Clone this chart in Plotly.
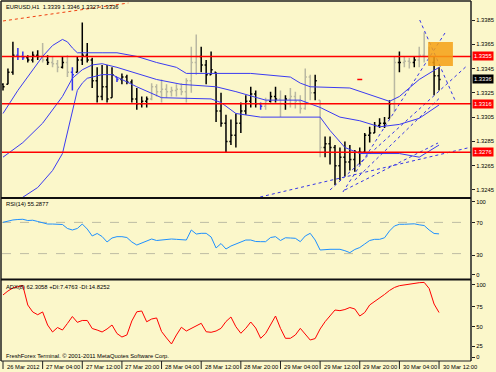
import plotly.graph_objects as go

# ---------------- data ----------------
BARS = list(range(89))  # H1 bars, bar 0 = 26 Mar 2012 20:00
OPEN = [1.3332,1.3332,1.3342,1.3356,1.3355,1.3354,1.3352,1.3356,1.3355,1.3352,
        1.3350,1.3349,1.3346,1.3350,1.3342,1.3342,1.3352,1.3356,1.3352,1.3335,
        1.3322,1.3330,1.3321,1.3338,1.3336,1.3338,1.3334,1.3320,1.3316,1.3318,
        1.3320,1.3330,1.3326,1.3328,1.3326,1.3327,1.3328,1.3326,1.3335,1.3350,
        1.3355,1.3348,1.3340,1.3342,1.3310,1.3300,1.3285,1.3290,1.3300,1.3310,
        1.3318,1.3324,1.3316,1.3314,1.3318,1.3322,1.3320,1.3316,1.3320,1.3322,
        1.3318,1.3312,1.3338,1.3325,1.3319,1.3280,1.3283,1.3280,1.3265,1.3272,
        1.3268,1.3270,1.3276,1.3276,1.3290,1.3292,1.3298,1.3300,1.3304,1.3316,
        1.3350,1.3350,1.3351,1.3350,1.3352,1.3356,1.3355,1.3350,1.3339]
HIGH = [1.3333,1.3345,1.3367,1.3362,1.3359,1.3356,1.3359,1.3360,1.3366,1.3356,
        1.3355,1.3352,1.3355,1.3356,1.3346,1.3355,1.3383,1.3366,1.3354,1.3346,
        1.3348,1.3348,1.3346,1.3338,1.3341,1.3340,1.3336,1.3329,1.3322,1.3322,
        1.3333,1.3332,1.3336,1.3332,1.3330,1.3332,1.3333,1.3337,1.3363,1.3373,
        1.3363,1.3352,1.3359,1.3342,1.3325,1.3307,1.3303,1.3308,1.3317,1.3323,
        1.3330,1.3327,1.3317,1.3321,1.3326,1.3330,1.3327,1.3323,1.3329,1.3326,
        1.3323,1.3345,1.3340,1.3340,1.3319,1.3289,1.3289,1.3282,1.3280,1.3285,
        1.3282,1.3278,1.3280,1.3292,1.3297,1.3301,1.3304,1.3305,1.3319,1.3355,
        1.3359,1.3355,1.3354,1.3355,1.3363,1.3375,1.3363,1.3355,1.3346]
LOW = [1.3327,1.3332,1.3340,1.3352,1.3352,1.3350,1.3350,1.3352,1.3350,1.3348,
       1.3346,1.3342,1.3345,1.3338,1.3327,1.3342,1.3348,1.3350,1.3329,1.3317,
       1.3319,1.3317,1.3321,1.3334,1.3332,1.3332,1.3317,1.3311,1.3313,1.3313,
       1.3319,1.3322,1.3317,1.3321,1.3322,1.3322,1.3323,1.3317,1.3325,1.3340,
       1.3342,1.3332,1.3340,1.3301,1.3297,1.3276,1.3282,1.3280,1.3292,1.3307,
       1.3313,1.3313,1.3311,1.3311,1.3317,1.3317,1.3305,1.3311,1.3313,1.3312,
       1.3308,1.3311,1.3319,1.3319,1.3272,1.3272,1.3266,1.3249,1.3253,1.3256,
       1.3261,1.3260,1.3266,1.3276,1.3284,1.3292,1.3296,1.3296,1.3304,1.3309,
       1.3342,1.3346,1.3345,1.3346,1.3346,1.3350,1.3348,1.3323,1.3327]
CLOSE = [1.3330,1.3342,1.3356,1.3355,1.3354,1.3352,1.3356,1.3355,1.3352,1.3350,
         1.3349,1.3346,1.3350,1.3342,1.3340,1.3352,1.3356,1.3352,1.3335,1.3322,
         1.3330,1.3320,1.3340,1.3336,1.3338,1.3334,1.3320,1.3316,1.3318,1.3320,
         1.3330,1.3326,1.3328,1.3326,1.3327,1.3328,1.3326,1.3335,1.3350,1.3355,
         1.3348,1.3340,1.3344,1.3310,1.3300,1.3285,1.3290,1.3300,1.3310,1.3318,
         1.3324,1.3316,1.3314,1.3318,1.3322,1.3320,1.3316,1.3320,1.3322,1.3318,
         1.3312,1.3338,1.3325,1.3335,1.3280,1.3283,1.3280,1.3265,1.3272,1.3268,
         1.3270,1.3276,1.3276,1.3290,1.3292,1.3298,1.3300,1.3300,1.3316,1.3350,
         1.3350,1.3351,1.3350,1.3352,1.3356,1.3355,1.3350,1.3339,1.3336]

# Bollinger bands (vertices)
UB_BARS = [0,3,8,10,12,13,14,15,20,23,27,31,35,37,50,58,60,62,70,75,78,80,84,88]
UB_VALS = [1.3308,1.3327,1.3355,1.3364,1.3369,1.3367,1.3362,1.3358,1.3358,1.3358,1.3355,1.3350,
           1.3346,1.3341,1.3341,1.3338,1.3333,1.3330,1.3329,1.3322,1.3318,1.3322,1.3336,1.3346]
MB_BARS = [0,4,8,12,14,16,18,20,23,27,31,36,43,47,53,60,64,68,72,76,80,84,88]
MB_VALS = [1.3272,1.3284,1.3300,1.3322,1.3337,1.3344,1.3348,1.3349,1.3346,1.3341,1.3336,1.3332,
           1.3330,1.3326,1.3319,1.3319,1.3313,1.3305,1.3302,1.3297,1.3299,1.3304,1.3315]
LB_BARS = [3,4,7,10,12,13,14,15,16,17,20,22,24,27,32,42,44,47,52,64,66,69,72,80,84,88]
LB_VALS = [1.3236,1.3239,1.3247,1.3261,1.3275,1.3292,1.3311,1.3327,1.3333,1.3337,1.3340,1.3340,
           1.3336,1.3330,1.3321,1.3320,1.3317,1.3308,1.3305,1.3305,1.3294,1.3280,1.3275,1.3275,
           1.3272,1.3282]

LEVELS = [1.3355, 1.3316, 1.3276]
CURRENT = 1.3336
PRICE_TICKS = [1.3385, 1.3365, 1.3345, 1.3325, 1.3305, 1.3285, 1.3265, 1.3245]

# drawn objects: (bar0, price0, bar1, price1)
TRENDLINES = [(51.9,1.32392,94.6,1.32804),(68.6,1.32433,89.2,1.33743),(66.0,1.32450,93.8,1.33479),
              (69.0,1.32450,87.8,1.32837),(84.1,1.33850,91.2,1.33191),(71.0,1.32532,88.1,1.33207)]
TOPLINE = (0.0,1.33842,25.3,1.33990)
BOX = (85.8,1.33669,90.8,1.33471)
ASK_MARK = (71.5, 72.5)

RSI = [70.1,71.8,73.1,73.7,74.0,72.4,72.8,71.2,69.2,67.9,
       67.9,67.9,67.3,62.2,60.3,62.2,67.9,61.5,52.6,55.8,
       51.9,44.9,50.0,51.7,51.7,50.6,44.9,41.0,43.6,46.2,
       48.7,46.8,47.4,48.5,48.7,48.3,48.1,47.4,60.3,55.1,
       56.0,56.0,51.3,37.2,42.9,35.9,39.7,42.3,44.0,47.4,
       47.4,45.5,45.3,45.3,50.6,51.7,46.8,50.3,50.0,49.6,
       45.3,52.6,56.0,47.4,34.6,35.3,35.5,35.5,35.5,33.7,
       31.2,35.3,37.8,42.3,46.8,48.3,48.3,50.3,59.0,65.4,
       67.6,67.6,67.9,68.2,66.9,66.0,60.3,55.8,55.29]
ADX = [84.0,88.9,92.6,94.4,95.7,71.6,63.0,59.6,63.0,46.9,
       38.3,43.8,40.7,48.8,57.4,50.2,52.5,52.5,42.6,40.7,
       38.3,42.0,46.9,36.4,32.1,34.6,51.9,63.2,64.2,50.9,
       54.3,55.6,38.9,30.9,23.5,34.6,44.1,39.5,42.8,45.7,
       49.0,38.6,37.9,39.5,42.8,51.2,56.8,44.8,36.7,42.8,
       50.6,43.2,30.5,36.4,46.9,58.0,42.8,30.5,30.5,34.6,
       42.8,35.2,28.4,30.2,42.0,51.0,58.0,65.4,64.6,66.0,
       68.5,66.7,58.0,62.3,71.6,75.7,79.6,84.6,89.5,93.2,
       95.4,96.5,97.5,98.4,99.1,99.5,92.0,72.8,62.31]

TIME_TICKS = [0,8,16,24,32,40,48,56,64,72,80,88]
TIME_LABELS = ["26 Mar 2012","27 Mar 04:00","27 Mar 12:00","27 Mar 20:00","28 Mar 04:00",
               "28 Mar 12:00","28 Mar 20:00","29 Mar 04:00","29 Mar 12:00","29 Mar 20:00",
               "30 Mar 04:00","30 Mar 12:00"]

HEADER = "EURUSD,H1\u00a0\u00a01.3339 1.3346 1.3327 1.3336"
RSI_LABEL = "RSI(14) 55.2877"
ADX_LABEL = "ADX(8) 62.3058 +DI:7.4763 -DI:14.8252"
FOOTER = "FreshForex Terminal. \u00a9 2001-2011 MetaQuotes Software Corp."

# ---------------- style ----------------
W, H = 496, 372
BG = "#FBF7CA"
FONT = "Liberation Sans, Arial, sans-serif"
FS = 5.8
GRAY_BARS = {8,10,11,13,30,31,32,33,34,35,36,37,38,39,53,56,58,59,60,61,62,64,79,81,82,84,85,86}
BLUE_BARS = {3,4,14,23,52}
BAND = "#3B3BF2"

def px(x):
    return x / W

def py(y):
    return 1 - y / H

fig = go.Figure()

groups = [("#000000", [i for i in BARS if i not in GRAY_BARS and i not in BLUE_BARS]),
          ("#B9B8A2", sorted(GRAY_BARS)),
          ("#3434EE", sorted(BLUE_BARS))]
for col, idx in groups:
    fig.add_trace(go.Ohlc(
        x=[BARS[i] for i in idx], open=[OPEN[i] for i in idx], high=[HIGH[i] for i in idx],
        low=[LOW[i] for i in idx], close=[CLOSE[i] for i in idx],
        increasing=dict(line=dict(color=col, width=1.5)),
        decreasing=dict(line=dict(color=col, width=1.5)),
        tickwidth=0.32, xaxis="x", yaxis="y", showlegend=False, hoverinfo="skip"))

for bx, by in [(UB_BARS, UB_VALS), (MB_BARS, MB_VALS), (LB_BARS, LB_VALS)]:
    fig.add_trace(go.Scatter(x=bx, y=by, mode="lines", line=dict(color=BAND, width=1),
                             xaxis="x", yaxis="y", showlegend=False, hoverinfo="skip"))

for (b0, p0, b1, p1) in TRENDLINES:
    fig.add_trace(go.Scatter(x=[b0, b1], y=[p0, p1], mode="lines",
                             line=dict(color="#3535E8", width=1, dash="dot"),
                             xaxis="x", yaxis="y", showlegend=False, hoverinfo="skip"))
fig.add_trace(go.Scatter(x=[TOPLINE[0], TOPLINE[2]], y=[TOPLINE[1], TOPLINE[3]], mode="lines",
                         line=dict(color="#F04010", width=1, dash="dot"),
                         xaxis="x", yaxis="y", showlegend=False, hoverinfo="skip"))
fig.add_trace(go.Scatter(x=list(ASK_MARK), y=[CURRENT, CURRENT], mode="lines",
                         line=dict(color="#FF0000", width=1.5),
                         xaxis="x", yaxis="y", showlegend=False, hoverinfo="skip"))

fig.add_trace(go.Scatter(x=BARS, y=RSI, mode="lines", line=dict(color="#1E90FF", width=1),
                         xaxis="x2", yaxis="y2", showlegend=False, hoverinfo="skip"))
fig.add_trace(go.Scatter(x=BARS, y=ADX, mode="lines", line=dict(color="#FF0000", width=1),
                         xaxis="x3", yaxis="y3", showlegend=False, hoverinfo="skip"))

shapes = []
for lv in LEVELS:
    shapes.append(dict(type="line", xref="x domain", x0=0, x1=1, yref="y", y0=lv, y1=lv,
                       line=dict(color="#FF0000", width=1.5), layer="above"))
shapes.append(dict(type="rect", xref="x", yref="y", x0=BOX[0], x1=BOX[2], y0=BOX[1], y1=BOX[3],
                   fillcolor="rgba(245,160,20,0.85)", line=dict(width=0), layer="above"))
for lv in (70, 30):
    shapes.append(dict(type="line", xref="x2 domain", x0=0, x1=1, yref="y2", y0=lv, y1=lv,
                       line=dict(color="#BEBCA4", width=1, dash="dash"), layer="below"))
# pane frames
shapes += [
    dict(type="line", xref="paper", yref="paper", x0=px(1), x1=px(1), y0=py(1), y1=py(361),
         line=dict(color="#202020", width=1.5)),
    dict(type="line", xref="paper", yref="paper", x0=px(471), x1=px(471), y0=py(1), y1=py(361),
         line=dict(color="#202020", width=1.5)),
    dict(type="line", xref="paper", yref="paper", x0=px(1), x1=px(471), y0=py(1), y1=py(1),
         line=dict(color="#202020", width=1.5)),
    dict(type="line", xref="paper", yref="paper", x0=px(1), x1=px(471), y0=py(198), y1=py(198),
         line=dict(color="#101010", width=2.2)),
    dict(type="line", xref="paper", yref="paper", x0=px(1), x1=px(471), y0=py(279.5), y1=py(279.5),
         line=dict(color="#101010", width=2.2)),
    dict(type="line", xref="paper", yref="paper", x0=px(1), x1=px(471), y0=py(361), y1=py(361),
         line=dict(color="#202020", width=1.2)),
]
for t in TIME_TICKS:
    shapes.append(dict(type="line", xref="x3", yref="paper", x0=t, x1=t, y0=py(361), y1=py(369),
                       line=dict(color="#202020", width=1)))

ann = []
def label(x, y, text, **kw):
    d = dict(xref="paper", yref="paper", x=px(x), y=py(y), text=text, showarrow=False,
             xanchor="left", yanchor="middle", font=dict(family=FONT, size=FS, color="#000000"))
    d.update(kw)
    ann.append(d)

label(4, 7, HEADER)
label(4, 204, RSI_LABEL)
label(4, 287, ADX_LABEL)
label(4, 356, FOOTER)
for t, s in zip(TIME_TICKS, TIME_LABELS):
    ann.append(dict(xref="x3", yref="paper", x=t, y=py(367), text=s, showarrow=False,
                    xanchor="left", yanchor="middle", xshift=1.5,
                    font=dict(family=FONT, size=FS, color="#000000")))
for lv, bg in [(1.3355, "#FF0000"), (CURRENT, "#000000"), (1.3316, "#FF0000"), (1.3276, "#FF0000")]:
    ann.append(dict(xref="paper", yref="y", x=px(472), y=lv, text=f"{lv:.4f}", showarrow=False,
                    xanchor="left", yanchor="middle", bgcolor=bg, borderpad=1,
                    font=dict(family=FONT, size=FS, color="#FFFFFF")))

STEP = 4.955  # pixels per bar
XR = [(2 - 3) / STEP, (471 - 3) / STEP]
xd = [px(2), px(471)]
axcommon = dict(range=XR, domain=xd, showticklabels=False, showgrid=False, zeroline=False,
                ticks="", showline=False)
ycommon = dict(side="right", showgrid=False, zeroline=False, showline=False, ticks="outside",
               ticklen=3, tickcolor="#202020", tickfont=dict(family=FONT, size=FS, color="#000000"))

fig.update_layout(
    width=W, height=H, margin=dict(l=0, r=0, t=0, b=0),
    paper_bgcolor=BG, plot_bgcolor=BG, hovermode=False, showlegend=False,
    xaxis=dict(**axcommon, anchor="y", rangeslider=dict(visible=False)),
    xaxis2=dict(**axcommon, anchor="y2"),
    xaxis3=dict(**axcommon, anchor="y3"),
    yaxis=dict(**ycommon, anchor="x", domain=[py(197), py(2)], range=[1.32392, 1.339983],
               tickvals=PRICE_TICKS, ticktext=[f"{v:.4f}" for v in PRICE_TICKS]),
    yaxis2=dict(**ycommon, anchor="x2", domain=[py(277), py(199)], range=[0, 100],
                tickvals=[96.2, 69.6, 28.2, 2.6], ticktext=["100", "70", "30", "0"]),
    yaxis3=dict(**ycommon, anchor="x3", domain=[py(361), py(281)], range=[2.5, 101.2],
                tickvals=[96.3, 69.5, 44.8, 21.0, 7.0], ticktext=["100", "75", "50", "25", "0"]),
    shapes=shapes, annotations=ann,
)

fig.write_html("out.html", config={"displayModeBar": False, "staticPlot": True},
               post_script="document.body.style.margin='0';document.body.style.overflow='hidden';"
                           "document.body.style.background='" + BG + "';")
